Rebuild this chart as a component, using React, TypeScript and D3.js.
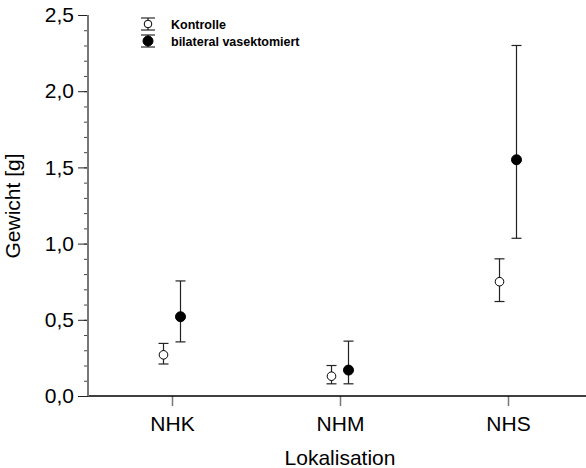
import { useRef, useEffect } from "react";
import * as d3 from "d3";

const categories = ["NHK", "NHM", "NHS"];
const kontrolleMean = [0.27, 0.13, 0.75];
const kontrolleLow = [0.21, 0.08, 0.62];
const kontrolleHigh = [0.345, 0.2, 0.9];
const vasekMean = [0.52, 0.17, 1.55];
const vasekLow = [0.355, 0.08, 1.035];
const vasekHigh = [0.755, 0.36, 2.3];
const yTicks = [0, 0.5, 1, 1.5, 2, 2.5];

const series = [
  { name: "Kontrolle", mean: kontrolleMean, low: kontrolleLow, high: kontrolleHigh, filled: false, dx: -8.5 },
  { name: "bilateral vasektomiert", mean: vasekMean, low: vasekLow, high: vasekHigh, filled: true, dx: 8.5 },
];

const App = () => {
  const svgRef = useRef<SVGSVGElement>(null);

  useEffect(() => {
    const svg = d3.select(svgRef.current);
    svg.selectAll("*").remove();
    const font = "Arial, 'Liberation Sans', sans-serif";

    const x = d3.scalePoint().domain(categories).range([88, 592]).padding(0.5);
    const y = d3.scaleLinear().domain([0, 2.5]).range([396, 15]);

    // minor ticks on y
    svg
      .append("g")
      .attr("transform", "translate(88,0)")
      .call(d3.axisLeft(y).ticks(25).tickSize(4).tickFormat(() => ""))
      .call((g) => g.select(".domain").remove())
      .call((g) => g.selectAll(".tick line").attr("stroke", "#444"));

    // major ticks on y
    svg
      .append("g")
      .attr("transform", "translate(88,0)")
      .call(
        d3
          .axisLeft(y)
          .tickValues(yTicks)
          .tickSize(10)
          .tickPadding(4)
          .tickFormat((d) => d3.format(".1f")(d as number).replace(".", ","))
      )
      .call((g) => g.select(".domain").remove())
      .call((g) => g.selectAll(".tick line").attr("stroke", "#222"))
      .call((g) =>
        g.selectAll(".tick text").attr("font-size", 21).attr("font-family", font).attr("fill", "#000")
      );

    // x axis
    const xg = svg
      .append("g")
      .attr("transform", "translate(0,396)")
      .call(d3.axisBottom(x).tickSize(10).tickPadding(10.5).tickSizeOuter(0));
    xg.select(".domain").remove();
    xg.selectAll(".tick line").attr("stroke", "#777").attr("stroke-width", 1.5);
    xg.selectAll(".tick text").attr("font-size", 21).attr("font-family", font).attr("fill", "#000");

    svg
      .append("line")
      .attr("x1", 88)
      .attr("x2", 586)
      .attr("y1", 396)
      .attr("y2", 396)
      .attr("stroke", "#000")
      .attr("stroke-width", 1.5);
    svg
      .append("line")
      .attr("x1", 88)
      .attr("x2", 88)
      .attr("y1", 15)
      .attr("y2", 396)
      .attr("stroke", "#777")
      .attr("stroke-width", 2);

    // axis titles
    svg
      .append("text")
      .attr("x", 340)
      .attr("y", 465)
      .attr("text-anchor", "middle")
      .attr("font-size", 21)
      .attr("font-family", font)
      .text("Lokalisation");
    svg
      .append("text")
      .attr("transform", "translate(20,206) rotate(-90)")
      .attr("text-anchor", "middle")
      .attr("font-size", 21)
      .attr("font-family", font)
      .text("Gewicht [g]");

    // error bars and points
    series.forEach((s) => {
      const g = svg.append("g");
      categories.forEach((c, i) => {
        const cx = (x(c) as number) + s.dx;
        g.append("line")
          .attr("x1", cx)
          .attr("x2", cx)
          .attr("y1", y(s.low[i]))
          .attr("y2", y(s.high[i]))
          .attr("stroke", "#222")
          .attr("stroke-width", 1.2);
        [s.low[i], s.high[i]].forEach((v) => {
          g.append("line")
            .attr("x1", cx - 5)
            .attr("x2", cx + 5)
            .attr("y1", y(v))
            .attr("y2", y(v))
            .attr("stroke", "#222")
            .attr("stroke-width", 1.2);
        });
        g.append("circle")
          .attr("cx", cx)
          .attr("cy", y(s.mean[i]))
          .attr("r", s.filled ? 5 : 4.3)
          .attr("fill", s.filled ? "#000" : "#fff")
          .attr("stroke", "#000")
          .attr("stroke-width", 1);
      });
    });

    // legend
    const legend = svg.append("g").attr("transform", "translate(148,24)");
    series.forEach((s, i) => {
      const row = legend.append("g").attr("transform", `translate(0,${i * 17})`);
      row.append("line").attr("x1", 0).attr("x2", 0).attr("y1", -6).attr("y2", 6).attr("stroke", "#000");
      [-6, 6].forEach((v) =>
        row.append("line").attr("x1", -7).attr("x2", 7).attr("y1", v).attr("y2", v).attr("stroke", "#000")
      );
      row
        .append("circle")
        .attr("r", s.filled ? 5 : 3.8)
        .attr("fill", s.filled ? "#000" : "#fff")
        .attr("stroke", "#000");
      row
        .append("text")
        .attr("x", 23)
        .attr("y", 4.5)
        .attr("font-size", 12.5)
        .attr("font-weight", "bold")
        .attr("font-family", font)
        .text(s.name);
    });
  }, []);

  return (
    <svg
      ref={svgRef}
      width={586}
      height={468}
      style={{ position: "absolute", left: 0, top: 0, background: "#fff" }}
    ></svg>
  );
};

export default App;
